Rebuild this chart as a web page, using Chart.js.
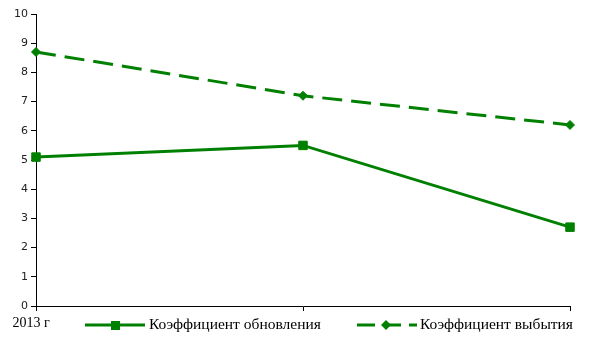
<!DOCTYPE html>
<html>
<head>
<meta charset="utf-8">
<script src="https://cdn.jsdelivr.net/npm/chart.js@4/dist/chart.umd.min.js"></script>
<style>
  html, body { margin: 0; padding: 0; background: #fff; }
  #wrap { width: 605px; height: 340px; }
</style>
</head>
<body>
<div id="wrap"><canvas id="chart" width="605" height="340"></canvas></div>
<script>
// Data
const years = ['2013 г', '2014 г', '2015 г'];
const renewalRate = [5.1, 5.5, 2.7];   // Коэффициент обновления
const retirementRate = [8.7, 7.2, 6.2]; // Коэффициент выбытия
const seriesNames = ['Коэффициент обновления', 'Коэффициент выбытия'];

const GREEN = '#008000';
const SERIF = '"Liberation Serif", "Times New Roman", serif';

// Legend sits on the x label row, as in the original
const legendPlugin = {
    id: 'rowLegend',
    afterDraw(chart) {
        const ctx = chart.ctx;
        const y = 325;
        ctx.save();
        ctx.strokeStyle = GREEN;
        ctx.fillStyle = GREEN;
        ctx.lineWidth = 3;

        // item 1: solid line + square
        ctx.beginPath();
        ctx.moveTo(85, y);
        ctx.lineTo(145, y);
        ctx.stroke();
        ctx.fillRect(111, y - 4, 9, 9);

        // item 2: dashed line + diamond
        ctx.setLineDash([18, 8]);
        ctx.beginPath();
        ctx.moveTo(357, y);
        ctx.lineTo(417, y);
        ctx.stroke();
        ctx.setLineDash([]);
        ctx.beginPath();
        ctx.moveTo(386, y - 5);
        ctx.lineTo(391, y);
        ctx.lineTo(386, y + 5);
        ctx.lineTo(381, y);
        ctx.closePath();
        ctx.fill();

        ctx.fillStyle = '#000';
        ctx.font = '15.5px ' + SERIF;
        ctx.textBaseline = 'middle';
        ctx.textAlign = 'left';
        ctx.fillText(seriesNames[0], 149, y);
        ctx.fillText(seriesNames[1], 420, y);
        ctx.restore();
    }
};

new Chart(document.getElementById('chart'), {
    type: 'line',
    data: {
        labels: years,
        datasets: [{
            label: seriesNames[0],
            data: renewalRate,
            borderColor: GREEN,
            backgroundColor: GREEN,
            borderWidth: 3,
            pointStyle: 'rect',
            pointRadius: 6,
            pointBorderWidth: 1,
            tension: 0,
            clip: false
        }, {
            label: seriesNames[1],
            data: retirementRate,
            borderColor: GREEN,
            backgroundColor: GREEN,
            borderWidth: 3,
            borderDash: [20, 9],
            pointStyle: 'rectRot',
            pointRadius: 4.5,
            pointBorderWidth: 1,
            tension: 0,
            clip: false
        }]
    },
    options: {
        responsive: false,
        animation: false,
        layout: { padding: { top: 14, right: 35, left: 0, bottom: 0 } },
        plugins: {
            legend: { display: false },
            tooltip: { enabled: false }
        },
        scales: {
            x: {
                offset: false,
                afterFit(scale) { scale.height = 34; },
                border: { color: '#000', width: 1 },
                grid: { drawOnChartArea: false, tickLength: 5, color: '#000' },
                ticks: {
                    color: '#000',
                    font: { family: SERIF, size: 14 },
                    maxRotation: 0,
                    autoSkip: false,
                    labelOffset: -5,
                    padding: 4,
                    // the other years are hidden under the legend in the original
                    callback(value, index) { return index === 0 ? this.getLabelForValue(value) : ''; }
                }
            },
            y: {
                min: 0,
                max: 10,
                afterFit(scale) { scale.width = 36; },
                border: { color: '#000', width: 1 },
                grid: { drawOnChartArea: false, tickLength: 5, color: '#000' },
                ticks: {
                    stepSize: 1,
                    color: '#222',
                    padding: 3,
                    font: { family: '"DejaVu Sans", sans-serif', size: 11 }
                }
            }
        }
    },
    plugins: [legendPlugin]
});
</script>
</body>
</html>
